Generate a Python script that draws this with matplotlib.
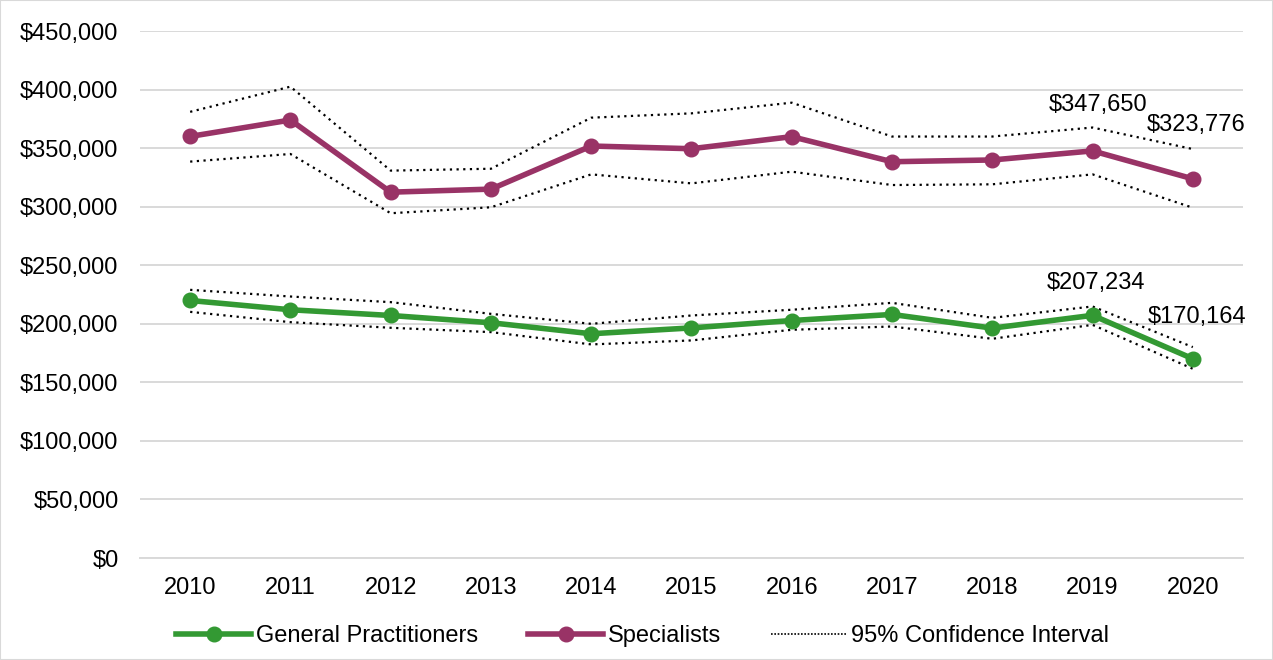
import matplotlib

matplotlib.use('AGG')

import matplotlib.pyplot as plt
from matplotlib.patches import Rectangle
from matplotlib.ticker import FuncFormatter

plt.rcParams['font.family'] = ['Liberation Sans', 'DejaVu Sans']

years = list(range(2010, 2021))

specialists = [360000, 374000, 312400, 315000, 351800, 349500,
               359800, 338400, 339900, 347650, 323776]
spec_upper = [381000, 402500, 330800, 332400, 376000, 379700,
              388800, 359900, 359900, 367600, 349200]
spec_lower = [338500, 345000, 294400, 299500, 327600, 319900,
              329900, 318500, 319100, 327600, 299100]

gps = [219900, 212000, 207100, 200900, 191500, 196500,
       202800, 208000, 196300, 207234, 170164]
gp_upper = [229000, 223300, 218500, 208500, 200000, 207100,
            212000, 217900, 205100, 214800, 180100]
gp_lower = [210200, 201400, 196600, 192900, 182400, 185800,
            194900, 197700, 187200, 199100, 161600]

green = '#339933'
purple = '#993366'
fs = 17

fig = plt.figure(figsize=(12.73, 6.6), dpi=100)
ax = fig.add_axes([0.110, 0.1545, 0.8664, 0.7985])

# confidence bands first so the main lines sit on top
for band in (spec_upper, spec_lower, gp_upper, gp_lower):
    ax.plot(years, band, color='black', linestyle=(0, (1, 2)), linewidth=1.6,
            zorder=2)

ax.plot(years, gps, '-o', color=green, linewidth=4, markersize=10.5,
        label='General Practitioners', zorder=3)
ax.plot(years, specialists, '-o', color=purple, linewidth=4, markersize=10.5,
        label='Specialists', zorder=3)
ax.plot([], [], color='black', linestyle=(0, (1, 1)), linewidth=1.2,
        label='95% Confidence Interval')

# value labels on the last two years
ax.text(2019.05, specialists[9] + 39000, '${:,}'.format(specialists[9]),
        ha='center', va='center', fontsize=fs)
ax.text(2020.03, specialists[10] + 46000, '${:,}'.format(specialists[10]),
        ha='center', va='center', fontsize=fs)
ax.text(2019.03, gps[9] + 27600, '${:,}'.format(gps[9]),
        ha='center', va='center', fontsize=fs)
ax.text(2020.04, gps[10] + 35600, '${:,}'.format(gps[10]),
        ha='center', va='center', fontsize=fs)

ax.set_xlim(2009.5, 2020.5)
ax.set_ylim(0, 450000)
ax.set_yticks(range(0, 450001, 50000))
ax.set_xticks(years)
ax.yaxis.set_major_formatter(FuncFormatter(lambda v, p: '${:,.0f}'.format(v)))
ax.tick_params(length=0, labelsize=fs, colors='black')
ax.tick_params(axis='y', pad=15.5)
ax.tick_params(axis='x', pad=14)
ax.grid(axis='y', color='#d9d9d9', linewidth=1.4)
ax.set_axisbelow(True)
for side in ('top', 'right', 'left'):
    ax.spines[side].set_visible(False)
ax.spines['bottom'].set_color('#d9d9d9')
ax.spines['bottom'].set_linewidth(1.4)

fig.legend(loc='center', bbox_to_anchor=(0.5047, 0.036), ncol=3,
           frameon=False, fontsize=fs, handlelength=3.2, columnspacing=2.1,
           handletextpad=0.2)

fig.patches.append(Rectangle((0, 0), 1, 1, transform=fig.transFigure,
                             fill=False, edgecolor='#d9d9d9', linewidth=1.5))

plt.savefig('out.png', dpi=100)
